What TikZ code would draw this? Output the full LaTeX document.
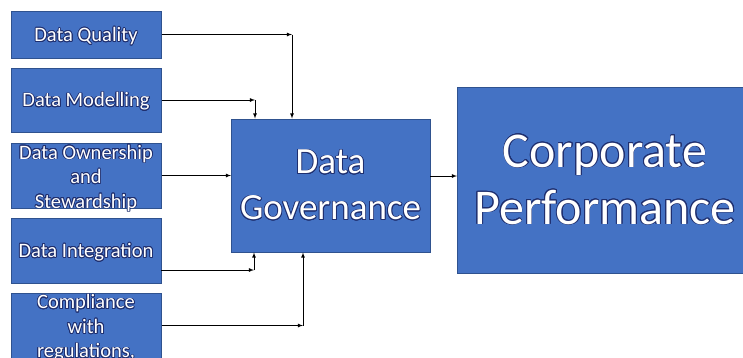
\documentclass[tikz,border=0pt]{standalone}
\usepackage{fontspec}
\setmainfont{Carlito}
\usepackage{contour}
\contourlength{0.8pt}
\usetikzlibrary{positioning}
\definecolor{boxblue}{HTML}{4472C4}
\definecolor{boxedge}{HTML}{2F528F}
\definecolor{glow}{HTML}{1F2F6F}
\newcommand{\gl}[1]{\contour{glow}{#1}}
\tikzstyle{block} = [draw=boxedge, fill=boxblue, rectangle, line width=1pt, inner sep=0pt]
\tikzstyle{small} = [block, minimum width=150pt, minimum height=65pt]
\tikzstyle{txt} = [text=white, align=center, inner sep=0pt, font=\fontsize{20.5}{24.5}\selectfont]
\tikzstyle{joint} = [coordinate]

\begin{document}
\begin{tikzpicture}[x=1pt, y=-1pt, >=latex, line width=0.8pt]
\useasboundingbox (0,0) rectangle (743,357);
\clip (0,0) rectangle (743,357);

% inputs on the left
\node [small, minimum height=47pt, label={[txt, yshift=-2pt]center:\gl{Data Quality}}] (quality) at (86,34.5) {};
\node [small, minimum height=64pt, label={[txt, yshift=-2pt]center:\gl{Data Modelling}}] (modelling) at (86,100) {};
\node [small, label={[txt, yshift=-3pt]center:{\gl{Data Ownership}\\\gl{and}\\\gl{Stewardship}}}] (ownership) at (86,175.5) {};
\node [small, label={[txt, yshift=-2pt]center:\gl{Data Integration}}] (integration) at (86,250.5) {};
\node [small, label={[txt, yshift=-3pt]center:{\gl{Compliance}\\\gl{with}\\\gl{regulations,}}}] (compliance) at (86,325.5) {};

% main blocks
\node [block, minimum width=199pt, minimum height=133pt, txt, font=\fontsize{37}{46}\selectfont] (governance) at (330.5,185.5) {\gl{Data}\\\gl{Governance}};
\node [block, minimum width=296pt, minimum height=186pt, txt, font=\fontsize{50}{57}\selectfont] (performance) at (605,180) {\gl{Corporate}\\\gl{Performance}};

% joints of the connectors
\node [joint] (jq) at (292,34.5) {};
\node [joint] (jm) at (255,100) {};
\node [joint] (io) at (161,270) {};
\node [joint] (ji) at (254,270) {};
\node [joint] (jc) at (303,325.5) {};
\node [joint] (own) at (231,175.5) {};
\node [joint] (gout) at (430,176) {};
\node [joint] (pin) at (457,176) {};

\draw [->] (quality) -- (jq);
\draw [->] (jq) -- (jq |- governance.north);
\draw [->] (modelling) -- (jm);
\draw [->] (jm) -- (jm |- governance.north);
\draw [->] (ownership) -- (own);
\draw [->] (io) -- (ji);
\draw [->] (ji) -- (ji |- governance.south);
\draw [->] (compliance) -- (jc);
\draw [->] (jc) -- (jc |- governance.south);
\draw [->] (gout) -- (pin);

\end{tikzpicture}
\end{document}
